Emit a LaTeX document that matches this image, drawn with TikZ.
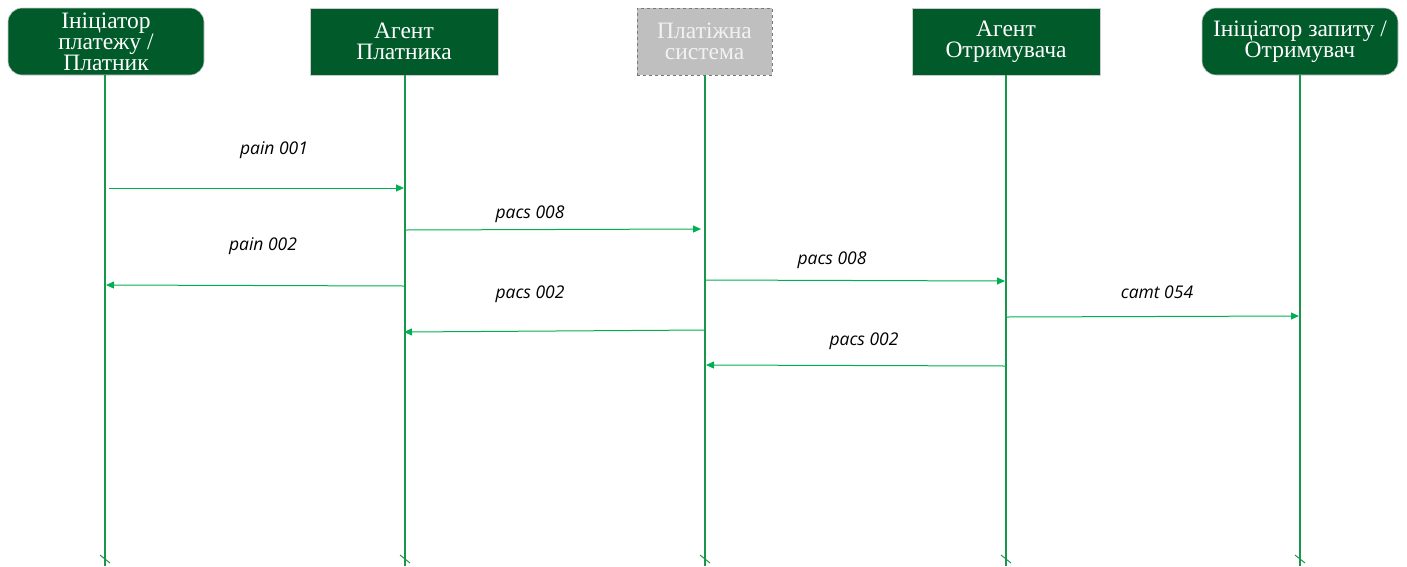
\documentclass[tikz,border=0pt]{standalone}
\usepackage{fontspec}
\setmainfont{Liberation Serif}
\newfontfamily\msgfont{Open Sans}
\usetikzlibrary{arrows.meta}
\definecolor{boxgreen}{RGB}{0,90,42}
\definecolor{lifegreen}{RGB}{24,150,74}
\definecolor{msggreen}{RGB}{0,176,80}
\definecolor{sysgray}{RGB}{191,191,191}
\definecolor{sysedge}{RGB}{120,120,120}
\tikzset{
  actor/.style={fill=boxgreen, draw=gray!40, line width=0.6pt, text=white,
    align=center, font=\fontsize{23.5}{21}\selectfont, inner sep=0pt},
  actorround/.style={actor, rounded corners=14pt},
  sysbox/.style={fill=sysgray, draw=sysedge, dashed, line width=0.6pt, text=white!90!gray,
    align=center, font=\fontsize{23.5}{21}\selectfont, inner sep=0pt},
  lifeline/.style={draw=lifegreen, line width=1.6pt},
  endmark/.style={draw=lifegreen, line width=1pt},
  msg/.style={draw=msggreen, line width=1pt, -{Triangle[length=8pt,width=7pt]}},
  msglabel/.style={font=\msgfont\itshape\fontsize{17.5}{20}\selectfont, text=black, inner sep=0pt}
}
\begin{document}
\begin{tikzpicture}[x=1pt,y=-1pt]
\useasboundingbox (0,0) rectangle (1407,566);

% participant heads
\node[actorround, minimum width=196pt, minimum height=67pt] (h1) at (106,41.5)
  {Ініціатор\\платежу /\\Платник};
\node[actor, minimum width=188pt, minimum height=67pt] (h2) at (404,41.5)
  {Агент\\Платника};
\node[sysbox, minimum width=135pt, minimum height=67pt] (h3) at (704.5,41.5)
  {Платіжна\\система};
\node[actor, minimum width=188pt, minimum height=67pt] (h4) at (1006,41.5)
  {Агент\\Отримувача};
\node[actorround, minimum width=196pt, minimum height=67pt] (h5) at (1300,41.5)
  {Ініціатор запиту /\\Отримувач};

% lifelines with end marks
\foreach \i/\x in {1/105,2/405,3/705,4/1006,5/1300}{
  \coordinate (e\i) at (\x,566);
  \draw[lifeline] (h\i.south -| e\i) -- (e\i);
  \draw[endmark] ([xshift=-5pt,yshift=4pt]\x,559) -- ([xshift=5pt,yshift=-4pt]\x,559);
}

% message anchor points on the lifelines
\coordinate (a1) at (109,188);  \coordinate (b1) at (404,188);
\coordinate (a2) at (405,230);  \coordinate (b2) at (701,229);
\coordinate (a3) at (405,286);  \coordinate (b3) at (106,285);
\coordinate (a4) at (706,280);  \coordinate (b4) at (1005,281);
\coordinate (a5) at (705,330);  \coordinate (b5) at (404,332);
\coordinate (a6) at (1006,317); \coordinate (b6) at (1299,316);
\coordinate (a7) at (1006,366); \coordinate (b7) at (706,365);

\draw[msg] (a1) -- (b1);
\draw[msg] (a2) -- (b2);
\draw[msg] (a3) -- (b3);
\draw[msg] (a4) -- (b4);
\draw[msg] (a5) -- (b5);
\draw[msg] (a6) -- (b6);
\draw[msg] (a7) -- (b7);

% message labels
\node[msglabel] (l1) at (274,150) {pain 001};
\node[msglabel] (l2) at (530,214) {pacs 008};
\node[msglabel] (l3) at (263,246) {pain 002};
\node[msglabel] (l4) at (832,260) {pacs 008};
\node[msglabel] (l5) at (530,294) {pacs 002};
\node[msglabel] (l6) at (1157,292) {camt 054};
\node[msglabel] (l7) at (864,341) {pacs 002};
\end{tikzpicture}
\end{document}
